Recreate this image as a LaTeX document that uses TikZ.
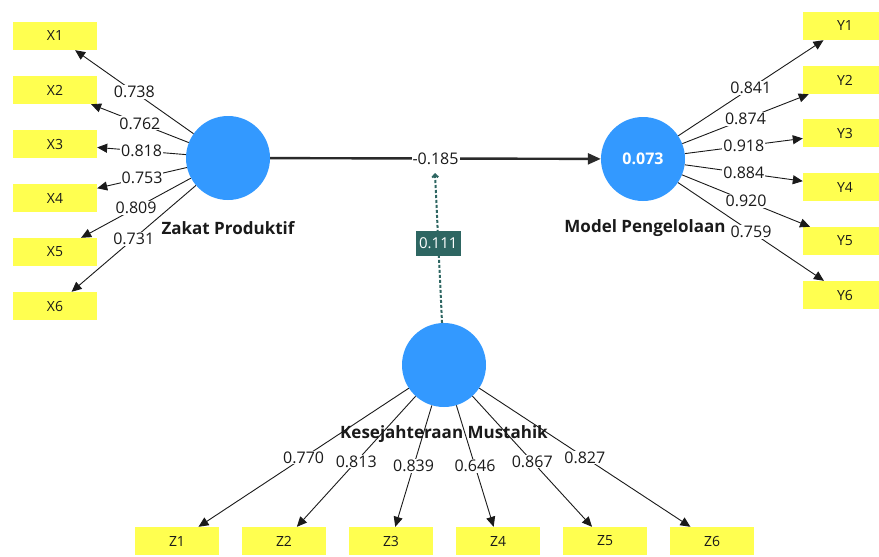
\documentclass[tikz,border=0pt]{standalone}
\usepackage{fontspec}
\setmainfont{Open Sans}
\usetikzlibrary{arrows.meta,calc}
\definecolor{latent}{HTML}{3399FF}
\definecolor{indic}{HTML}{FFFF50}
\definecolor{modc}{HTML}{2E6662}
\definecolor{ink}{HTML}{1A1A1A}
\definecolor{ink2}{HTML}{2A2A2A}
\begin{document}
\begin{tikzpicture}[x=1pt,y=-1pt,
 lat/.style={circle,fill=latent,minimum size=84pt,inner sep=0pt},
 ind/.style={rectangle,fill=indic,minimum width=84pt,minimum height=28pt,inner sep=0pt,font=\fontsize{14}{16}\selectfont,text=ink},
 load/.style={draw=ink,line width=0.9pt,-{Triangle[length=10pt,width=9pt]}},
 lbl/.style={fill=white,inner sep=1pt,font=\fontsize{16}{18}\selectfont,text=ink},
 latname/.style={font=\bfseries\fontsize{17}{20}\selectfont,text=ink},
 modbox/.style={fill=modc,text=white,minimum width=45pt,minimum height=25pt,inner sep=2pt,font=\fontsize{15}{17}\selectfont},
]
\useasboundingbox (0,0) rectangle (879,557);
\fill[white] (0,0) rectangle (879,557);

\node[lat] (zp) at (228,158) {};
\node[lat,text=white,font=\bfseries\fontsize{16}{18}\selectfont] (mp) at (643,159) {0.073};
\node[lat] (km) at (444,365) {};

\foreach \i/\y in {1/36,2/90,3/144,4/198,5/252,6/306} \node[ind] (x\i) at (55,\y) {X\i};
\foreach \i/\y in {1/26,2/80,3/133,4/187,5/241,6/295} \node[ind] (y\i) at (845,\y) {Y\i};
\foreach \i/\x in {1/177,2/284,3/391,4/498,5/605,6/712} \node[ind] (z\i) at (\x,541) {Z\i};

\foreach \i/\v in {1/0.738,2/0.762,3/0.818,4/0.753,5/0.809,6/0.731}
  \draw[load] (zp) -- node[lbl] {\v} (x\i);
\foreach \i/\v in {1/0.841,2/0.874,3/0.918,4/0.884,5/0.920,6/0.759}
  \draw[load] (mp) -- node[lbl] {\v} (y\i);
\foreach \i/\v in {1/0.770,2/0.813,3/0.839,4/0.646,5/0.867,6/0.827}
  \draw[load] (km) -- node[lbl] {\v} (z\i);

\draw[draw=ink2,line width=2.4pt,-{Triangle[length=13pt,width=11pt]}] (zp) -- node[lbl] (pc) {-0.185} (mp);

\coordinate (mt) at (435,173);
\draw[modc,line width=2pt,dash pattern=on 3pt off 2pt,-{Straight Barb[length=3pt,width=6pt]}] (km) -- node[modbox,pos=0.53] (mb) {0.111} (mt);

\node[latname] (zpn) at (228,228) {Zakat Produktif};
\node[latname] (mpn) at (645,228) {Model Pengelolaan};
\node[latname] (kmn) at (444,434) {Kesejahteraan Mustahik};
\end{tikzpicture}
\end{document}
